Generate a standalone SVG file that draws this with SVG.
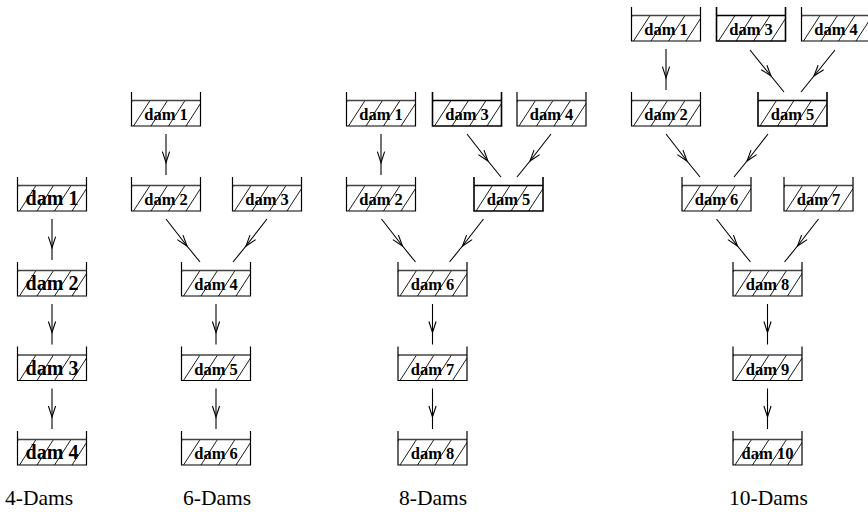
<svg xmlns="http://www.w3.org/2000/svg" xmlns:xlink="http://www.w3.org/1999/xlink" width="868" height="512" viewBox="0 0 868 512">
<style>
.lbl{font-family:"Liberation Serif","Times New Roman",serif;font-weight:bold;font-size:16.5px;text-anchor:middle;fill:#000}
.big{font-size:20px}
.cap{font-family:"Liberation Serif","Times New Roman",serif;font-size:21.5px;fill:#000}
.con{fill:none;stroke:#000;stroke-width:1.1;marker-mid:url(#ah)}
.hl{fill:none;stroke:#000;stroke-width:0.9}
</style>
<defs>
<clipPath id="water" clipPathUnits="userSpaceOnUse"><rect x="0" y="8.5" width="69" height="25.5"/></clipPath>
<marker id="ah" markerUnits="userSpaceOnUse" markerWidth="14" markerHeight="10" refX="0" refY="0" viewBox="-12 -5 14 10" orient="auto" overflow="visible">
<path d="M-11,-3.6 L0,0 L-11,3.6" fill="none" stroke="#000" stroke-width="1.1"/>
</marker>
<g id="hatch">
<path class="hl" clip-path="url(#water)" d="M-15.5,34 L1,8.5 M2,34 L18.5,8.5 M19.5,34 L36,8.5 M37,34 L53.5,8.5 M54.5,34 L71,8.5 M72,34 L88.5,8.5"/>
</g>
<g id="box">
<use href="#hatch" xlink:href="#hatch"/>
<line x1="0" y1="8.5" x2="69" y2="8.5" stroke="#444" stroke-width="1.3"/>
<path d="M0,0 V34 H69 V0" fill="none" stroke="#000" stroke-width="1.2"/>
</g>
<g id="boxh">
<use href="#hatch" xlink:href="#hatch"/>
<line x1="0" y1="8.5" x2="69" y2="8.5" stroke="#000" stroke-width="1.5"/>
<path d="M0,0 V34 H69 V0" fill="none" stroke="#000" stroke-width="1.6"/>
</g>
</defs>

<g id="connectors">
<!-- 4-Dams -->
<path class="con" d="M52,219 L52,247.7 L52,260"/>
<path class="con" d="M52,304 L52,332.5 L52,344.5"/>
<path class="con" d="M52,388.5 L52,417 L52,429"/>
<!-- 6-Dams -->
<path class="con" d="M166,134 L166,162.7 L166,175"/>
<path class="con" d="M166,219 L187,246 L200,262"/>
<path class="con" d="M267,219 L246,246 L233,262"/>
<path class="con" d="M216,304 L216,332.5 L216,344.5"/>
<path class="con" d="M216,388.5 L216,417 L216,429"/>
<!-- 8-Dams -->
<path class="con" d="M381,134 L381,162.7 L381,175"/>
<path class="con" d="M467,134 L488,161 L501,177"/>
<path class="con" d="M551,134 L530,161 L517,177"/>
<path class="con" d="M381.5,219 L402.5,246 L415.5,262"/>
<path class="con" d="M483.5,219 L462.5,246 L449.5,262"/>
<path class="con" d="M432.5,304 L432.5,332.5 L432.5,344.5"/>
<path class="con" d="M432.5,388.5 L432.5,417 L432.5,429"/>
<!-- 10-Dams -->
<path class="con" d="M666,49 L666,77.7 L666,90"/>
<path class="con" d="M750,50 L771,76 L784,92"/>
<path class="con" d="M835,50 L814,76 L801,92"/>
<path class="con" d="M666,134 L687,161 L700,177"/>
<path class="con" d="M768,134 L747,161 L734,177"/>
<path class="con" d="M716.5,219 L737.5,246 L750.5,262"/>
<path class="con" d="M818.5,219 L797.5,246 L784.5,262"/>
<path class="con" d="M767.5,304 L767.5,332.5 L767.5,344.5"/>
<path class="con" d="M767.5,388.5 L767.5,417 L767.5,429"/>
</g>

<!-- 4-Dams -->
<g id="d4-dam1" transform="translate(17.5,177)"><use href="#box" xlink:href="#box"/><text class="lbl big" x="34.5" y="28">dam 1</text></g>
<g id="d4-dam2" transform="translate(17.5,262)"><use href="#box" xlink:href="#box"/><text class="lbl big" x="34.5" y="28">dam 2</text></g>
<g id="d4-dam3" transform="translate(17.5,346.5)"><use href="#box" xlink:href="#box"/><text class="lbl big" x="34.5" y="28">dam 3</text></g>
<g id="d4-dam4" transform="translate(17.5,431)"><use href="#box" xlink:href="#box"/><text class="lbl big" x="34.5" y="28">dam 4</text></g>

<!-- 6-Dams -->
<g id="d6-dam1" transform="translate(131.5,92)"><use href="#box" xlink:href="#box"/><text class="lbl" x="34.5" y="28">dam 1</text></g>
<g id="d6-dam2" transform="translate(131.5,177)"><use href="#box" xlink:href="#box"/><text class="lbl" x="34.5" y="28">dam 2</text></g>
<g id="d6-dam3" transform="translate(232.5,177)"><use href="#box" xlink:href="#box"/><text class="lbl" x="34.5" y="28">dam 3</text></g>
<g id="d6-dam4" transform="translate(181.5,262)"><use href="#box" xlink:href="#box"/><text class="lbl" x="34.5" y="28">dam 4</text></g>
<g id="d6-dam5" transform="translate(181.5,346.5)"><use href="#box" xlink:href="#box"/><text class="lbl" x="34.5" y="28">dam 5</text></g>
<g id="d6-dam6" transform="translate(181.5,431)"><use href="#box" xlink:href="#box"/><text class="lbl" x="34.5" y="28">dam 6</text></g>

<!-- 8-Dams -->
<g id="d8-dam1" transform="translate(346.5,92)"><use href="#box" xlink:href="#box"/><text class="lbl" x="34.5" y="28">dam 1</text></g>
<g id="d8-dam3" transform="translate(432.5,92)"><use href="#boxh" xlink:href="#boxh"/><text class="lbl" x="34.5" y="28">dam 3</text></g>
<g id="d8-dam4" transform="translate(517,92)"><use href="#box" xlink:href="#box"/><text class="lbl" x="34.5" y="28">dam 4</text></g>
<g id="d8-dam2" transform="translate(346.5,177)"><use href="#box" xlink:href="#box"/><text class="lbl" x="34.5" y="28">dam 2</text></g>
<g id="d8-dam5" transform="translate(474,177)"><use href="#boxh" xlink:href="#boxh"/><text class="lbl" x="34.5" y="28">dam 5</text></g>
<g id="d8-dam6" transform="translate(398,262)"><use href="#box" xlink:href="#box"/><text class="lbl" x="34.5" y="28">dam 6</text></g>
<g id="d8-dam7" transform="translate(398,346.5)"><use href="#box" xlink:href="#box"/><text class="lbl" x="34.5" y="28">dam 7</text></g>
<g id="d8-dam8" transform="translate(398,431)"><use href="#box" xlink:href="#box"/><text class="lbl" x="34.5" y="28">dam 8</text></g>

<!-- 10-Dams -->
<g id="d10-dam1" transform="translate(631.5,7)"><use href="#box" xlink:href="#box"/><text class="lbl" x="34.5" y="28">dam 1</text></g>
<g id="d10-dam3" transform="translate(716.5,7)"><use href="#boxh" xlink:href="#boxh"/><text class="lbl" x="34.5" y="28">dam 3</text></g>
<g id="d10-dam4" transform="translate(801.5,7)"><use href="#box" xlink:href="#box"/><text class="lbl" x="34.5" y="28">dam 4</text></g>
<g id="d10-dam2" transform="translate(631.5,92)"><use href="#box" xlink:href="#box"/><text class="lbl" x="34.5" y="28">dam 2</text></g>
<g id="d10-dam5" transform="translate(758,92)"><use href="#boxh" xlink:href="#boxh"/><text class="lbl" x="34.5" y="28">dam 5</text></g>
<g id="d10-dam6" transform="translate(682,177)"><use href="#box" xlink:href="#box"/><text class="lbl" x="34.5" y="28">dam 6</text></g>
<g id="d10-dam7" transform="translate(784,177)"><use href="#box" xlink:href="#box"/><text class="lbl" x="34.5" y="28">dam 7</text></g>
<g id="d10-dam8" transform="translate(733,262)"><use href="#box" xlink:href="#box"/><text class="lbl" x="34.5" y="28">dam 8</text></g>
<g id="d10-dam9" transform="translate(733,346.5)"><use href="#box" xlink:href="#box"/><text class="lbl" x="34.5" y="28">dam 9</text></g>
<g id="d10-dam10" transform="translate(733,431)"><use href="#box" xlink:href="#box"/><text class="lbl" x="34.5" y="28">dam 10</text></g>

<g id="captions">
<text class="cap" x="5" y="505">4-Dams</text>
<text class="cap" x="183" y="505">6-Dams</text>
<text class="cap" x="399" y="505">8-Dams</text>
<text class="cap" x="729" y="505">10-Dams</text>
</g>
</svg>
